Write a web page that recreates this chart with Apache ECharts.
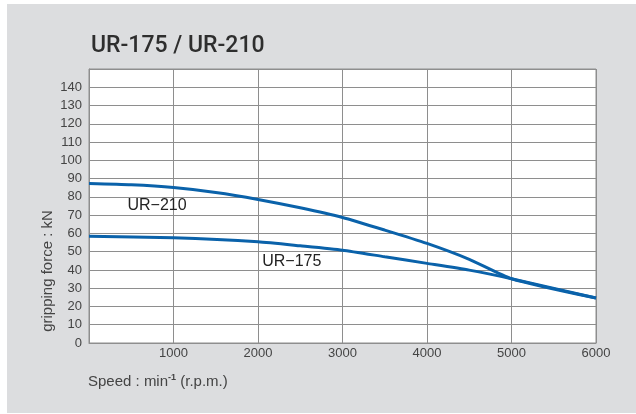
<!DOCTYPE html>
<html>
<head>
<meta charset="utf-8">
<script src="https://cdn.jsdelivr.net/npm/echarts@6/dist/echarts.min.js"></script>
<style>
    html, body { margin: 0; padding: 0; background: #fff; }
    #chart {
        position: absolute;
        left: 7px;
        top: 4px;
        width: 629px;
        height: 409px;
        background: #dcdddf;
    }
</style>
</head>
<body>
<div id="chart"></div>
<script>
var speed_ticks = [0, 1000, 2000, 3000, 4000, 5000, 6000];
var force_ticks = [0, 10, 20, 30, 40, 50, 60, 70, 80, 90, 100, 110, 120, 130, 140];

// speed (min-1), gripping force (kN)
var ur210_speed = [0, 500, 1000, 1500, 2000, 2500, 3000, 3500, 4000, 4500, 5000, 6000];
var ur210_force = [87.3, 86.6, 85.1, 82.4, 78.6, 74, 68.7, 61.8, 54.5, 45.8, 35.2, 24.6];
var ur175_speed = [0, 1000, 2000, 2500, 3000, 3500, 4000, 4500, 5000, 6000];
var ur175_force = [58.5, 57.6, 55.4, 53.2, 50.8, 47.2, 43.6, 39.9, 35.2, 24.6];

var names = ["UR-210", "UR-175"];
var name_pos = [[805, 75.4], [2400, 44.8]];

function pairs(xs, ys) {
    return xs.map(function (x, i) { return [x, ys[i]]; });
}

var myChart = echarts.init(document.getElementById("chart"));
var lineColor = '#0a62aa',
    gridColor = '#8e8e8e',
    textColor = '#444';

function curve(name, data, pos) {
    return {
        name: name,
        type: 'line',
        data: data,
        smooth: 0.2,
        showSymbol: false,
        lineStyle: { color: lineColor, width: 3 },
        markPoint: {
            symbolSize: 0,
            data: [{ coord: pos, value: name.replace('-', '\u2212') }],
            label: {
                show: true,
                position: 'inside',
                formatter: '{c}',
                color: '#222',
                fontSize: 16,
                fontFamily: 'Liberation Sans'
            }
        }
    };
}

var option = {
    animation: false,
    title: {
        text: 'UR-175 / UR-210',
        left: 79,
        top: 26,
        textStyle: {
            fontFamily: 'Roboto',
            fontSize: 23,
            fontWeight: 500,
            color: '#2e2e2e'
        }
    },
    grid: {
        left: 82, top: 65, right: 40, bottom: 70,
        show: true,
        backgroundColor: '#fff',
        borderColor: gridColor
    },
    xAxis: {
        type: 'value',
        min: 0,
        max: 6000,
        interval: 1000,
        axisLine: { lineStyle: { color: gridColor } },
        axisTick: { show: false },
        splitLine: { lineStyle: { color: gridColor } },
        axisLabel: {
            margin: 4,
            color: textColor,
            fontSize: 13,
            fontFamily: 'Liberation Sans',
            formatter: function (v) { return speed_ticks.indexOf(v) > 0 ? v : ''; }
        }
    },
    yAxis: {
        type: 'value',
        min: 0,
        max: 150,
        interval: 10,
        axisLine: { show: true, lineStyle: { color: gridColor } },
        axisTick: { show: false },
        splitLine: { lineStyle: { color: gridColor } },
        axisLabel: {
            margin: 7,
            color: textColor,
            fontSize: 13,
            fontFamily: 'Liberation Sans',
            formatter: function (v) { return force_ticks.indexOf(v) >= 0 ? v : ''; }
        }
    },
    graphic: [{
        type: 'text',
        x: 41,
        y: 267,
        rotation: Math.PI / 2,
        style: {
            text: 'gripping force : kN',
            fill: textColor,
            font: '15px "Liberation Sans"',
            align: 'center',
            verticalAlign: 'middle'
        }
    }, {
        type: 'text',
        left: 81,
        top: 369,
        style: {
            rich: {
                t: { fill: textColor, font: '15px "Liberation Sans"' },
                s: { fill: textColor, font: 'bold 9px "Liberation Sans"', verticalAlign: 'top', padding: [0, 0, 8, 0] }
            },
            text: '{t|Speed : min}{s|-1}{t| (r.p.m.)}'
        }
    }],
    series: [
        curve(names[0], pairs(ur210_speed, ur210_force), name_pos[0]),
        curve(names[1], pairs(ur175_speed, ur175_force), name_pos[1])
    ]
};
myChart.setOption(option);
</script>
</body>
</html>
